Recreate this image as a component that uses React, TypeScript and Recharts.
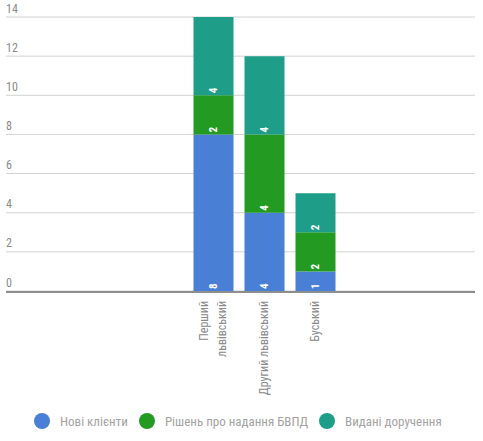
import { BarChart, Bar, XAxis, YAxis, CartesianGrid, Legend, LabelList } from "recharts";

const FONT = '"Liberation Sans Narrow", "Roboto Condensed", "Roboto", sans-serif';

// categories (line breaks mark how the rotated tick wraps)
const categories = ["Перший\nльвівський", "Другий львівський", "Буський"];
const newClients = [8, 4, 1];
const decisions = [2, 4, 2];
const assignments = [4, 4, 2];
const yTicks = [0, 2, 4, 6, 8, 10, 12, 14];

const SERIES = [
  { key: "clients", name: "Нові клієнти", color: "#4a7fd6", values: newClients },
  { key: "decisions", name: "Рішень про надання БВПД", color: "#239b23", values: decisions },
  { key: "assignments", name: "Видані доручення", color: "#1e9e88", values: assignments },
];

const chartData = categories.map((c, i) => {
  const row: Record<string, string | number> = { name: c };
  SERIES.forEach((s) => {
    row[s.key] = s.values[i];
  });
  return row;
});

function YTick(props: any) {
  const { y, payload } = props;
  return (
    <text x={6} y={Number(y) - 4.5} textAnchor="start" fontSize={12} fill="#8a8a8a" fontFamily={FONT}>
      {payload?.value}
    </text>
  );
}

function XTick(props: any) {
  const { x, payload } = props;
  const lines = String(payload?.value ?? "").split("\n");
  const cx = Number(x);
  const top = 301;
  const step = 17.5;
  return (
    <g transform={`translate(${cx},${top}) rotate(-90)`}>
      {lines.map((line, i) => (
        <text
          key={i}
          x={0}
          y={(i - (lines.length - 1) / 2) * step}
          textAnchor="end"
          dominantBaseline="central"
          fontSize={12}
          fill="#8a8a8a"
          fontFamily={FONT}
        >
          {line}
        </text>
      ))}
    </g>
  );
}

function SegmentLabel(props: any) {
  const { x, y, width, height, value } = props;
  if (!value) return null;
  const cx = Number(x) + Number(width) / 2;
  const base = Number(y) + Number(height) - 2;
  return (
    <text
      transform={`translate(${cx},${base}) rotate(-90)`}
      textAnchor="start"
      dominantBaseline="central"
      fontSize={11}
      fontWeight="bold"
      fill="#ffffff"
      fontFamily={FONT}
    >
      {value}
    </text>
  );
}

function LegendContent() {
  return (
    <div
      style={{
        height: 40,
        display: "flex",
        alignItems: "center",
        paddingLeft: 29,
        fontFamily: FONT,
        fontSize: 13,
        color: "#a3a3a3",
        whiteSpace: "nowrap",
      }}
    >
      {SERIES.map((s) => (
        <div key={s.key} style={{ display: "flex", alignItems: "center", marginRight: 11, flexShrink: 0 }}>
          <span
            style={{
              width: 16,
              height: 16,
              borderRadius: "50%",
              background: s.color,
              marginRight: 10,
              display: "inline-block",
              flexShrink: 0,
            }}
          />
          <span>{s.name}</span>
        </div>
      ))}
    </div>
  );
}

export default function App() {
  return (
    <div style={{ position: "absolute", left: 0, top: 0, width: 483, height: 441, background: "#fff", fontFamily: FONT }}>
      <BarChart width={483} height={441} data={chartData} margin={{ top: 17, right: 8, left: 5, bottom: 0 }}>
        <CartesianGrid vertical={false} stroke="#d2d2d2" />
        <XAxis
          dataKey="name"
          height={110}
          padding={{ left: 181.5, right: 134.5 }}
          tickLine={false}
          axisLine={{ stroke: "#8e8e8e", strokeWidth: 2, transform: "translate(0,1)" }}
          tick={<XTick />}
          interval={0}
        />
        <YAxis
          width={1}
          domain={[0, 14]}
          ticks={yTicks}
          axisLine={false}
          tickLine={false}
          tick={<YTick />}
          interval={0}
        />
        <Legend verticalAlign="bottom" content={<LegendContent />} />
        {SERIES.map((s) => (
          <Bar key={s.key} dataKey={s.key} name={s.name} stackId="a" fill={s.color} barSize={40} isAnimationActive={false}>
            <LabelList dataKey={s.key} content={<SegmentLabel />} />
          </Bar>
        ))}
      </BarChart>
    </div>
  );
}
